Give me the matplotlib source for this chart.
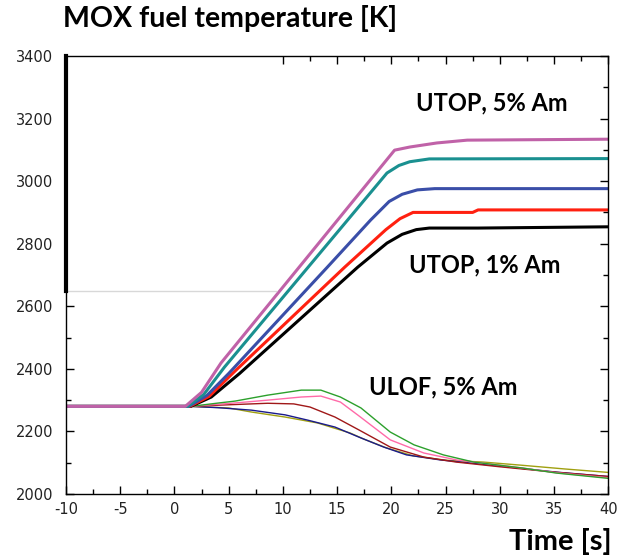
import matplotlib
matplotlib.use('Agg')
import matplotlib.pyplot as plt
import numpy as np

plt.rcParams['axes.unicode_minus'] = False

# UTOP curves (thick)
t_mag = [-10, 1.0, 2.5, 4.3, 20.3, 21.7, 24.2, 27, 40]
T_mag = [2280, 2280, 2325, 2419, 3099, 3109, 3122, 3131, 3134]
t_teal = [-10, 1.2, 2.7, 4.6, 19.6, 20.7, 21.7, 23.5, 40]
T_teal = [2280, 2280, 2318, 2405, 3026, 3050, 3062, 3071, 3072]
t_blue = [-10, 1.3, 3.0, 5.0, 14.1, 18.1, 19.8, 21.0, 22.4, 24.0, 40]
T_blue = [2280, 2280, 2315, 2385, 2725, 2876, 2935, 2958, 2972, 2976, 2976]
t_red = [-10, 1.4, 3.2, 5.5, 15.7, 19.5, 20.8, 22.0, 27.5, 28, 40]
T_red = [2280, 2280, 2312, 2390, 2725, 2845, 2880, 2900, 2900, 2908, 2908]
t_blk = [-10, 1.5, 3.4, 6.0, 16.9, 19.6, 21.0, 22.3, 23.5, 28, 40]
T_blk = [2280, 2280, 2310, 2385, 2725, 2802, 2830, 2845, 2850, 2850, 2854]

# ULOF curves (thin)
t_grn = [-10, 1.5, 4.1, 5.6, 8.6, 11.7, 13.5, 15.3, 17.2, 19.9, 22.1, 24.8, 27.6, 32.1, 35.2, 40]
T_grn = [2280, 2280, 2291, 2297, 2316, 2332, 2332, 2310, 2275, 2198, 2157, 2125, 2102, 2083, 2067, 2050]
t_pnk = [-10, 1.5, 5.6, 8.6, 11.7, 13.5, 15.3, 17.0, 19.9, 23.0, 26.0, 32.1, 35.2, 40]
T_pnk = [2280, 2280, 2291, 2300, 2310, 2313, 2294, 2250, 2173, 2131, 2109, 2083, 2068, 2052]
t_mar = [-10, 1.5, 4.1, 8.6, 11.0, 12.5, 14.8, 17.0, 19.9, 23.0, 26.0, 30, 35, 40]
T_mar = [2280, 2280, 2284, 2290, 2288, 2278, 2246, 2205, 2150, 2118, 2102, 2087, 2070, 2056]
t_nav = [-10, 1.5, 4.0, 7.1, 10.2, 12.3, 14.8, 17.0, 19.3, 21.4, 24.5, 29, 35.2, 40]
T_nav = [2280, 2280, 2276, 2268, 2253, 2236, 2214, 2182, 2150, 2125, 2109, 2093, 2070, 2056]
t_olv = [-10, 1.5, 5.0, 7.1, 10.2, 13.2, 16.2, 17.5, 19.5, 22, 25, 28.5, 32, 36, 40]
T_olv = [2280, 2280, 2275, 2262, 2246, 2227, 2195, 2175, 2148, 2122, 2108, 2102, 2092, 2080, 2069]

fig = plt.figure(figsize=(6.19, 5.57), dpi=100)
ax = fig.add_axes([0.1066, 0.1131, 0.876, 0.7864])

# thin ULOF lines
for t, T, c in [(t_olv, T_olv, '#a0a010'), (t_nav, T_nav, '#1a1a8c'),
                (t_mar, T_mar, '#a01818'), (t_pnk, T_pnk, '#ff6aa8'),
                (t_grn, T_grn, '#2ca02c')]:
    ax.plot(t, T, color=c, lw=1.0)

# thick UTOP lines
for t, T, c in [(t_blk, T_blk, 'black'), (t_red, T_red, '#ff2010'),
                (t_blue, T_blue, '#3a4ea8'), (t_teal, T_teal, '#1a9090'),
                (t_mag, T_mag, '#c062a8')]:
    ax.plot(t, T, color=c, lw=2.2)

# grey guide line and thick upper left border
ax.plot([-10, 9.4], [2650, 2650], color='#d8d8d8', lw=1)
ax.axvline(-10, ymin=(2650 - 2000) / 1400, ymax=1, color='black', lw=3, clip_on=False)

ax.set_xlim(-10, 40)
ax.set_ylim(2000, 3400)
ax.set_xticks(np.arange(-10, 41, 5))
ax.set_xticks(np.arange(-7.5, 40, 5), minor=True)
ax.set_yticks(np.arange(2000, 3401, 200))
ax.set_yticks(np.arange(2100, 3400, 200), minor=True)
ax.tick_params(which='both', direction='in', top=True, right=True,
               labelsize=10.5, colors='black')
ax.tick_params(which='major', length=6, width=1)
ax.tick_params(which='minor', length=3.5, width=1)
for lab in ax.get_xticklabels() + ax.get_yticklabels():
    lab.set_family('DejaVu Sans')
    lab.set_color('#222222')
ax.tick_params(axis='x', pad=6)
ax.tick_params(axis='y', pad=9)

# hide tick marks on pasted-over parts of the frame
fig.canvas.draw()
for tk in ax.xaxis.get_major_ticks() + ax.xaxis.get_minor_ticks():
    if tk.get_loc() < 10:
        tk.tick2line.set_visible(False)
for tk in ax.yaxis.get_major_ticks() + ax.yaxis.get_minor_ticks():
    if tk.get_loc() > 2650:
        tk.tick1line.set_visible(False)

for s in ax.spines.values():
    s.set_linewidth(1)

ax.text(0.925, 0.893, 'UTOP, 5% Am', transform=ax.transAxes, ha='right', va='center',
        fontsize=17, fontweight='bold', family='Lato')
ax.text(0.912, 0.523, 'UTOP, 1% Am', transform=ax.transAxes, ha='right', va='center',
        fontsize=17, fontweight='bold', family='Lato')
ax.text(0.832, 0.244, 'ULOF, 5% Am', transform=ax.transAxes, ha='right', va='center',
        fontsize=17, fontweight='bold', family='Lato')

fig.text(0.102, 0.967, 'MOX fuel temperature [K]', ha='left', va='center',
         fontsize=20.5, fontweight='bold', family='Lato')
fig.text(0.988, 0.028, 'Time [s]', ha='right', va='center',
         fontsize=21, fontweight='bold', family='Lato')

fig.savefig('out.png', dpi=100)
